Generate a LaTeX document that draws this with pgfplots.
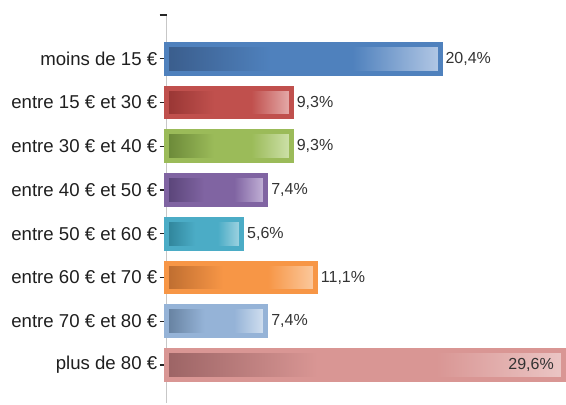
\documentclass[border=0pt]{standalone}
\usepackage{pgfplots}
\pgfplotsset{compat=1.18}
\usepackage{fontspec}
\setmainfont{Liberation Sans}
% main, dark, light
\definecolor{m1}{HTML}{4F81BD}\definecolor{d1}{HTML}{3A5D8C}\definecolor{l1}{HTML}{B3C8E5}
\definecolor{m2}{HTML}{C0504D}\definecolor{d2}{HTML}{983634}\definecolor{l2}{HTML}{E6AEAD}
\definecolor{m3}{HTML}{9BBB59}\definecolor{d3}{HTML}{6A8838}\definecolor{l3}{HTML}{CFE2AC}
\definecolor{m4}{HTML}{8064A2}\definecolor{d4}{HTML}{594478}\definecolor{l4}{HTML}{C6B6DA}
\definecolor{m5}{HTML}{4BACC6}\definecolor{d5}{HTML}{2F8399}\definecolor{l5}{HTML}{A6D6E3}
\definecolor{m6}{HTML}{F79646}\definecolor{d6}{HTML}{BE6D30}\definecolor{l6}{HTML}{FBCAA0}
\definecolor{m7}{HTML}{95B3D7}\definecolor{d7}{HTML}{65809F}\definecolor{l7}{HTML}{D5E2F1}
\definecolor{m8}{HTML}{D99694}\definecolor{d8}{HTML}{9C6465}\definecolor{l8}{HTML}{EBC6C5}
\definecolor{labgray}{HTML}{333333}
\newcommand\mkshade[4]{\pgfdeclarehorizontalshading{#1}{100bp}{color(0bp)=(#2); color(25bp)=(#2); color(44bp)=(#3); color(59bp)=(#3); color(75bp)=(#4); color(100bp)=(#4)}}
\mkshade{s1}{d1}{m1}{l1}
\mkshade{s2}{d2}{m2}{l2}
\mkshade{s3}{d3}{m3}{l3}
\mkshade{s4}{d4}{m4}{l4}
\mkshade{s5}{d5}{m5}{l5}
\mkshade{s6}{d6}{m6}{l6}
\mkshade{s7}{d7}{m7}{l7}
\mkshade{s8}{d8}{m8}{l8}
\begin{document}
\begin{tikzpicture}
\begin{axis}[
  scale only axis, width=199.65pt, height=194.2pt,
  xmin=0, xmax=29.8, ymin=-1, ymax=7.88, y dir=reverse,
  axis x line=none, axis y line*=left,
  y axis line style={draw=black!22, line width=0.6pt},
  ytick={0,...,7},
  yticklabels={moins de 15 €, entre 15 € et 30 €, entre 30 € et 40 €, entre 40 € et 50 €, entre 50 € et 60 €, entre 60 € et 70 €, entre 70 € et 80 €, plus de 80 €},
  extra y ticks={-1}, extra y tick labels={},
  tick align=outside, major tick length=3.5pt,
  ytick style={draw=black!85, line width=0.6pt},
  yticklabel style={font=\fontsize{9.3}{11}\selectfont, text=black!88, inner sep=1pt},
  bar width=0.66, clip=false,
  point meta=x,
  nodes near coords={\pgfmathprintnumber[use comma, fixed, fixed zerofill, precision=1, assume math mode=true]{\pgfplotspointmeta}\%},
  nodes near coords align={horizontal},
  every node near coord/.append style={font=\fontsize{8}{9}\selectfont, text=labgray, inner sep=1.5pt},
]
\addplot[xbar, bar shift=0pt, draw=m1, line width=2.5pt, shading=s1] coordinates {(20.4,0)};
\addplot[xbar, bar shift=0pt, draw=m2, line width=2.5pt, shading=s2] coordinates {(9.3,1)};
\addplot[xbar, bar shift=0pt, draw=m3, line width=2.5pt, shading=s3] coordinates {(9.3,2)};
\addplot[xbar, bar shift=0pt, draw=m4, line width=2.5pt, shading=s4] coordinates {(7.4,3)};
\addplot[xbar, bar shift=0pt, draw=m5, line width=2.5pt, shading=s5] coordinates {(5.6,4)};
\addplot[xbar, bar shift=0pt, draw=m6, line width=2.5pt, shading=s6] coordinates {(11.1,5)};
\addplot[xbar, bar shift=0pt, draw=m7, line width=2.5pt, shading=s7] coordinates {(7.4,6)};
\addplot[xbar, bar shift=0pt, draw=m8, line width=2.5pt, shading=s8,
  every node near coord/.append style={anchor=east, xshift=-2pt}] coordinates {(29.6,7)};
\path (axis cs:0,-1) ++(-83.3pt,0pt);
\path (axis cs:29.8,-1) ++(0pt,7.5pt);
\end{axis}
\end{tikzpicture}
\end{document}
